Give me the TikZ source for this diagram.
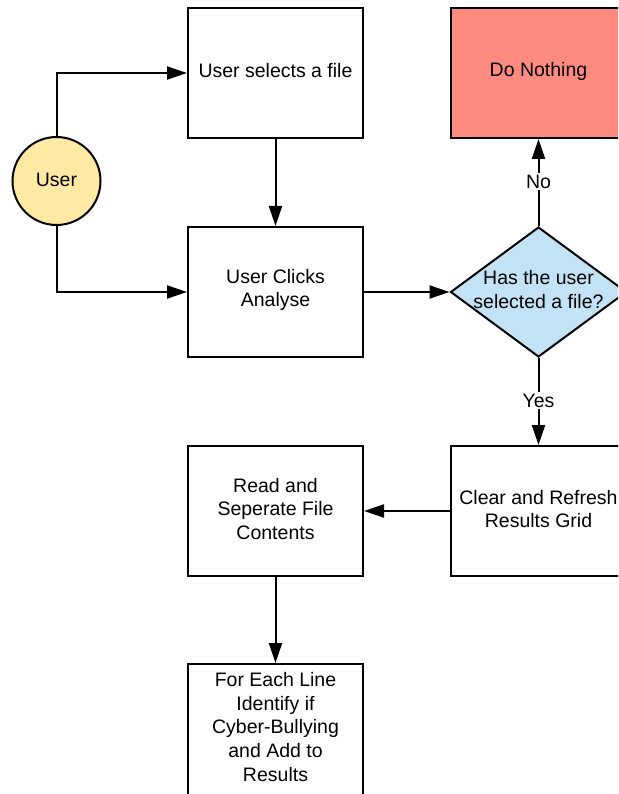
\documentclass[tikz,border=0pt]{standalone}
\usepackage{fontspec}
\setmainfont{Liberation Sans}
\usetikzlibrary{arrows.meta,shapes.geometric}
\definecolor{userfill}{RGB}{255,233,163}
\definecolor{nofill}{RGB}{255,139,128}
\definecolor{askfill}{RGB}{194,227,245}
\tikzset{
  every node/.style={font=\fontsize{19.5}{23.7}\selectfont},
  procbox/.style={draw, line width=2pt, minimum width=175pt, minimum height=130pt,
    inner sep=0pt, align=center, text width=165pt},
  boxtext/.style={align=center, inner sep=0pt},
  flow/.style={line width=2pt, -{Triangle[length=20pt,width=13pt]}},
  edgelabel/.style={fill=white, inner sep=2pt}
}
\begin{document}
\begin{tikzpicture}[x=1pt,y=-1pt]
\useasboundingbox (0,0) rectangle (618,794);
\clip (0,0) rectangle (618,794);
\fill[white] (0,0) rectangle (618,794);

% process boxes
\node[procbox] (pick) at (275.5,73) {};
\node[boxtext] at (275.5,71) {User selects a file};
\node[procbox] (analyse) at (275.5,292) {};
\node[boxtext] at (275.5,290) {User Clicks\\Analyse};
\node[procbox, fill=nofill] (idle) at (538.5,73) {};
\node[boxtext] at (538.5,71) {Do Nothing};
\node[procbox] (refresh) at (538.5,511) {};
\node[boxtext] at (538.5,509) {Clear and Refresh\\Results Grid};
\node[procbox] (read) at (275.5,511) {};
\node[boxtext] at (275.5,509) {Read and\\Seperate File\\Contents};
\node[procbox, minimum height=134pt] (scan) at (275.5,731) {};
\node[boxtext] at (275.5,727) {For Each Line\\Identify if\\Cyber-Bullying\\and Add to\\Results};

% actor
\node[draw, circle, line width=2pt, fill=userfill, minimum size=88pt, inner sep=0pt] (user) at (56.5,181) {};
\node[boxtext] at (56.5,180) {User};

% decision
\node[diamond, draw, line width=2pt, fill=askfill, minimum width=176pt, minimum height=130pt, inner sep=0pt] (ask) at (538.5,292) {};
\node[boxtext] at (538.5,289.5) {Has the user\\selected a file?};

% connectors
\draw[flow] (user.north) |- (pick.west);
\draw[flow] (user.south) |- (analyse.west);
\draw[flow] (pick.south) -- (analyse.north);
\draw[flow] (analyse.east) -- (ask.west);
\draw[flow] (ask.north) -- node[edgelabel, pos=0.5, yshift=1pt] {No} (idle.south);
\draw[flow] (ask.south) -- node[edgelabel, pos=0.5, yshift=1pt] {Yes} (refresh.north);
\draw[flow] (refresh.west) -- (read.east);
\draw[flow] (read.south) -- (scan.north);
\end{tikzpicture}
\end{document}
